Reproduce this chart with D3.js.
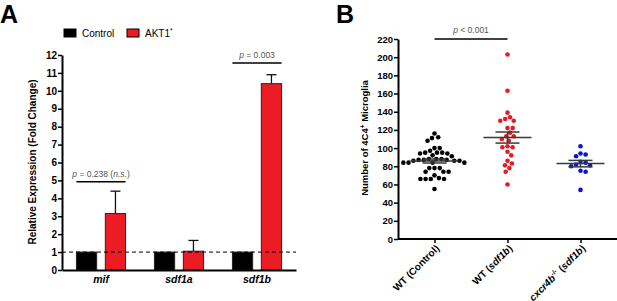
<!DOCTYPE html>
<html>
<head>
<meta charset="utf-8">
<script src="https://d3js.org/d3.v7.min.js"></script>
<style>
  body { margin: 0; background: #fff; }
  svg { display: block; font-family: "Liberation Sans", Arial, sans-serif; }
</style>
</head>
<body>
<div id="chart"></div>
<script>
// ---- Panel A data: relative expression (fold change) ----
var genes = ["mif", "sdf1a", "sdf1b"];
var seriesNames = ["Control", "AKT1*"];
var controlVals = [1, 1, 1];
var aktVals = [3.15, 1.05, 10.4];
var aktErr = [1.25, 0.6, 0.5];
var yTicksA = d3.range(0, 13);

// ---- Panel B data: number of 4C4+ microglia per larva ----
var groups = ["WT (Control)", "WT (sdf1b)", "cxcr4b (sdf1b)"];
var wtControl = [116, 112, 111, 108, 100, 100, 97, 95, 95, 95, 94, 94, 92, 91, 88, 88, 88,
  87, 87, 87, 86, 86, 86, 84, 84, 84, 84, 78, 78, 78, 74, 74, 74, 70, 67, 66, 66, 66, 66, 55];
var wtSdf1b = [203, 163, 139, 134, 132, 130, 130, 122, 122, 117, 113, 113, 110, 108, 102,
  101, 101, 96, 92, 86, 83, 81, 78, 74, 60];
var mutSdf1b = [102, 94, 93, 91, 85, 84, 82, 81, 80, 75, 74, 54];
var yTicksB = d3.range(0, 221, 20);

var width = 617, height = 301;
var svg = d3.select("#chart").append("svg")
  .attr("width", width).attr("height", height);

var red = "#ec1c24";

// panel letters
svg.append("text").attr("x", 0).attr("y", 23)
  .style("font-size", "25px").style("font-weight", "bold").text("A");
svg.append("text").attr("x", 336).attr("y", 23)
  .style("font-size", "25px").style("font-weight", "bold").text("B");

// =================== Panel A ===================
var xA = d3.scaleBand().domain(genes).range([62, 296])
  .paddingInner(0.37).paddingOuter(0.185);
var xSub = d3.scaleBand().domain(seriesNames).range([0, xA.bandwidth()]).paddingInner(0.3);
var yA = d3.scaleLinear().domain([0, 12]).range([270, 55]);

var gA = svg.append("g");

// legend
var leg = gA.append("g");
seriesNames.forEach(function(s, i) {
  var lx = i === 0 ? 64 : 127;
  leg.append("rect").attr("x", lx).attr("y", 29).attr("width", 12).attr("height", 8)
    .attr("fill", i === 0 ? "#000" : red).attr("stroke", "#000").attr("stroke-width", 1);
  var t = leg.append("text").attr("x", lx + 18).attr("y", 37).style("font-size", "10px");
  if (i === 0) t.text(s);
  else {
    t.append("tspan").text("AKT1");
    t.append("tspan").attr("dy", -4).style("font-size", "6.5px").text("*");
  }
});

// bars
var barData = [];
genes.forEach(function(g, i) {
  barData.push({ gene: g, series: "Control", value: controlVals[i], err: 0 });
  barData.push({ gene: g, series: "AKT1*", value: aktVals[i], err: aktErr[i] });
});

// error bars (upper only), drawn behind the bars
var eb = gA.selectAll(".err").data(barData.filter(function(d) { return d.err > 0; }))
  .enter().append("g");
eb.append("line")
  .attr("x1", function(d) { return xA(d.gene) + xSub(d.series) + xSub.bandwidth() / 2; })
  .attr("x2", function(d) { return xA(d.gene) + xSub(d.series) + xSub.bandwidth() / 2; })
  .attr("y1", function(d) { return yA(d.value); })
  .attr("y2", function(d) { return yA(d.value + d.err); })
  .attr("stroke", "#111").attr("stroke-width", 1.3);
eb.append("line")
  .attr("x1", function(d) { return xA(d.gene) + xSub(d.series) + xSub.bandwidth() / 2 - 5; })
  .attr("x2", function(d) { return xA(d.gene) + xSub(d.series) + xSub.bandwidth() / 2 + 5; })
  .attr("y1", function(d) { return yA(d.value + d.err); })
  .attr("y2", function(d) { return yA(d.value + d.err); })
  .attr("stroke", "#111").attr("stroke-width", 1.3);

gA.selectAll(".bar").data(barData).enter().append("rect")
  .attr("x", function(d) { return xA(d.gene) + xSub(d.series); })
  .attr("y", function(d) { return yA(d.value); })
  .attr("width", xSub.bandwidth())
  .attr("height", function(d) { return yA(0) - yA(d.value); })
  .attr("fill", function(d) { return d.series === "Control" ? "#000" : red; })
  .attr("stroke", "#222").attr("stroke-width", 1);

// dashed reference line at 1
gA.append("line").attr("x1", 62).attr("x2", 296)
  .attr("y1", yA(1)).attr("y2", yA(1))
  .attr("stroke", "#000").attr("stroke-width", 1).attr("stroke-dasharray", "4,3");

// axes
var axA = gA.append("g").attr("transform", "translate(62,0)")
  .call(d3.axisLeft(yA).tickValues(yTicksA).tickSize(4).tickSizeOuter(0).tickPadding(1));
var axAx = gA.append("g").attr("transform", "translate(0,270)")
  .call(d3.axisBottom(xA).tickSize(0).tickSizeOuter(0).tickPadding(6));
axAx.selectAll("text").style("font-style", "italic").style("font-size", "10.5px")
  .style("font-weight", "bold").attr("fill", "#000");
axA.selectAll("text").style("font-size", "10px").style("font-weight", "bold").attr("fill", "#000");
[axA, axAx].forEach(function(a) {
  a.select(".domain").attr("stroke", "#000").attr("stroke-width", 2);
  a.selectAll(".tick line").attr("stroke", "#000").attr("stroke-width", 1.5);
});

gA.append("text").attr("transform", "translate(36,162) rotate(-90)")
  .attr("text-anchor", "middle").style("font-size", "10px").style("font-weight", "bold")
  .text("Relative Expression (Fold Change)");

// significance annotations
function sigA(gene, level, parts) {
  var x1 = xA(gene) + xSub("Control"), x2 = xA(gene) + xSub("AKT1*") + xSub.bandwidth();
  gA.append("line").attr("x1", x1).attr("x2", x2).attr("y1", yA(level)).attr("y2", yA(level))
    .attr("stroke", "#000").attr("stroke-width", 1.5);
  var t = gA.append("text").attr("x", (x1 + x2) / 2).attr("y", yA(level) - 5)
    .attr("text-anchor", "middle").style("font-size", "8.5px").attr("fill", "#555");
  parts.forEach(function(p) {
    t.append("tspan").style("font-style", p[1] ? "italic" : "normal").text(p[0]);
  });
}
sigA("mif", 4.93, [["p", true], [" = 0.238 (", false], ["n.s.", true], [")", false]]);
sigA("sdf1b", 11.55, [["p", true], [" = 0.003", false]]);

// =================== Panel B ===================
var xB = d3.scalePoint().domain(groups).range([398, 617]).padding(0.5);
var yB = d3.scaleLinear().domain([0, 220]).range([239, 39]);
var gB = svg.append("g");

var groupData = [
  { name: groups[0], values: wtControl, color: "#000" },
  { name: groups[1], values: wtSdf1b, color: "#e31b23" },
  { name: groups[2], values: mutSdf1b, color: "#0a14d6" }
];

// simple beeswarm: place each dot as close to the centre as it can go without overlap
var r = 2.3, minD = 2 * r + 0.6;
function dodge(values) {
  var placed = [];
  values.slice().sort(function(a, b) { return b - a; }).forEach(function(v) {
    var y = yB(v);
    var cands = [0];
    placed.forEach(function(p) {
      var dy = Math.abs(p.y - y);
      if (dy < minD) {
        var dx = Math.sqrt(minD * minD - dy * dy);
        cands.push(p.dx + dx, p.dx - dx);
      }
    });
    cands.sort(function(a, b) { return Math.abs(a) - Math.abs(b); });
    for (var i = 0; i < cands.length; i++) {
      var c = cands[i];
      var ok = placed.every(function(p) {
        var ddx = p.dx - c, ddy = p.y - y;
        return ddx * ddx + ddy * ddy >= minD * minD - 0.01;
      });
      if (ok) { placed.push({ v: v, y: y, dx: c }); break; }
    }
  });
  return placed;
}

groupData.forEach(function(g) {
  var cx = xB(g.name);
  gB.append("g").selectAll("circle").data(dodge(g.values)).enter().append("circle")
    .attr("cx", function(d) { return cx + d.dx; })
    .attr("cy", function(d) { return d.y; })
    .attr("r", r).attr("fill", g.color);

  var m = d3.mean(g.values);
  var sem = d3.deviation(g.values) / Math.sqrt(g.values.length);
  var eg = gB.append("g").attr("stroke", "#3a3a3a").attr("stroke-width", 1.5);
  eg.append("line").attr("x1", cx - 24).attr("x2", cx + 24).attr("y1", yB(m)).attr("y2", yB(m));
  eg.append("line").attr("x1", cx).attr("x2", cx).attr("y1", yB(m - sem)).attr("y2", yB(m + sem));
  [m - sem, m + sem].forEach(function(v) {
    eg.append("line").attr("x1", cx - 12).attr("x2", cx + 12).attr("y1", yB(v)).attr("y2", yB(v));
  });
});

var axB = gB.append("g").attr("transform", "translate(398,0)")
  .call(d3.axisLeft(yB).tickValues(yTicksB).tickSize(4).tickSizeOuter(0).tickPadding(1));
axB.selectAll("text").style("font-size", "9.5px").style("font-weight", "bold").attr("fill", "#000");

var axBx = gB.append("g").attr("transform", "translate(0,239)")
  .call(d3.axisBottom(xB).tickSize(4).tickSizeOuter(0));
axBx.select(".domain").attr("d", "M398,0H617");
axBx.selectAll(".tick text").remove();
[axB, axBx].forEach(function(a) {
  a.select(".domain").attr("stroke", "#000").attr("stroke-width", 2);
  a.selectAll(".tick line").attr("stroke", "#000").attr("stroke-width", 1.5);
});

// rotated category labels with italic gene names
var labelParts = [
  [["WT (Control)", "n"]],
  [["WT (", "n"], ["sdf1b", "i"], [")", "n"]],
  [["cxcr4b", "i"], ["-/-", "s"], [" (", "n", 4], ["sdf1b", "i"], [")", "n"]]
];
axBx.selectAll(".tick").each(function(d, i) {
  var t = d3.select(this).append("text")
    .attr("transform", "translate(5,10) rotate(-45)")
    .attr("text-anchor", "end").attr("fill", "#000")
    .style("font-size", "10px").style("font-weight", "bold");
  labelParts[i].forEach(function(p) {
    var ts = t.append("tspan").text(p[0]);
    if (p[1] === "i") ts.style("font-style", "italic");
    if (p[1] === "s") ts.attr("dy", -4).style("font-size", "6.5px");
    if (p[2]) ts.attr("dy", p[2]);
  });
});

var yl = gB.append("text").attr("transform", "translate(368,138) rotate(-90)")
  .attr("text-anchor", "middle").style("font-size", "9.5px").style("font-weight", "bold");
yl.append("tspan").text("Number of 4C4");
yl.append("tspan").attr("dy", -3.5).style("font-size", "6.5px").text("+");
yl.append("tspan").attr("dy", 3.5).text(" Microglia");

// significance bar
var sx1 = xB(groups[0]), sx2 = xB(groups[1]);
gB.append("line").attr("x1", sx1).attr("x2", sx2).attr("y1", yB(220)).attr("y2", yB(220))
  .attr("stroke", "#000").attr("stroke-width", 1.5);
var st = gB.append("text").attr("x", (sx1 + sx2) / 2).attr("y", yB(220) - 6)
  .attr("text-anchor", "middle").style("font-size", "8.5px").attr("fill", "#555");
st.append("tspan").style("font-style", "italic").text("p");
st.append("tspan").text(" < 0.001");
</script>
</body>
</html>
